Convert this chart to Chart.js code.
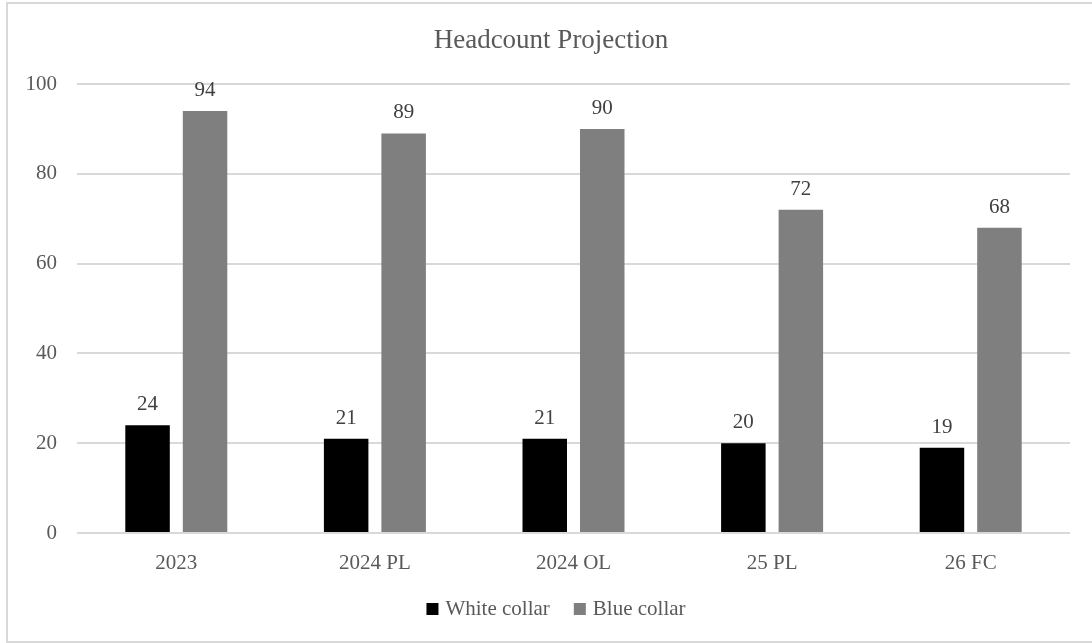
<!DOCTYPE html>
<html>
<head>
<meta charset="utf-8">
<title>Headcount Projection</title>
<script src="https://cdn.jsdelivr.net/npm/chart.js@4.4.1/dist/chart.umd.min.js"></script>
<style>
  html, body { margin: 0; padding: 0; background: #ffffff; }
  #wrap { position: relative; width: 1092px; height: 643px; }
</style>
</head>
<body>
<div id="wrap"><canvas id="c" width="1092" height="643"></canvas></div>
<script>
// Headcount by period
const categories = ['2023', '2024 PL', '2024 OL', '25 PL', '26 FC'];
const whiteCollar = [24, 21, 21, 20, 19];
const blueCollar = [94, 89, 90, 72, 68];
const yTicks = [0, 20, 40, 60, 80, 100];
const seriesNames = ['White collar', 'Blue collar'];
const seriesColors = ['#000000', '#7f7f7f'];
const chartTitle = 'Headcount Projection';

const FONT = '"Liberation Serif", "Times New Roman", serif';
const TEXT_GRAY = '#595959';

// Frame, title, value labels and legend
const decorations = {
  id: 'decorations',
  beforeDraw(chart) {
    const ctx = chart.ctx;
    ctx.save();
    ctx.fillStyle = '#ffffff';
    ctx.fillRect(0, 0, chart.width, chart.height);
    ctx.strokeStyle = '#d9d9d9';
    ctx.lineWidth = 2;
    ctx.strokeRect(7, 3, 1095, 639);
    ctx.restore();
  },
  afterDatasetsDraw(chart) {
    const ctx = chart.ctx;
    ctx.save();
    // value labels above each bar
    ctx.font = '21px ' + FONT;
    ctx.fillStyle = '#404040';
    ctx.textAlign = 'center';
    ctx.textBaseline = 'alphabetic';
    chart.data.datasets.forEach((ds, i) => {
      const meta = chart.getDatasetMeta(i);
      meta.data.forEach((bar, j) => {
        ctx.fillText(String(ds.data[j]), bar.x, bar.y - 15);
      });
    });
    // title
    ctx.font = '27px ' + FONT;
    ctx.fillStyle = TEXT_GRAY;
    ctx.fillText(chartTitle, 551, 48);
    // legend
    ctx.font = '21px ' + FONT;
    ctx.textAlign = 'left';
    const box = 12, gapText = 7, gapItem = 24, baseline = 615;
    const widths = seriesNames.map(n => ctx.measureText(n).width);
    const total = widths.reduce((a, w) => a + box + gapText + w, 0) + gapItem * (seriesNames.length - 1);
    let x = 556 - total / 2;
    seriesNames.forEach((name, i) => {
      ctx.fillStyle = seriesColors[i];
      ctx.fillRect(x, 603, box, box);
      x += box + gapText;
      ctx.fillStyle = TEXT_GRAY;
      ctx.fillText(name, x, baseline);
      x += widths[i] + gapItem;
    });
    ctx.restore();
  }
};

new Chart(document.getElementById('c'), {
  type: 'bar',
  data: {
    labels: categories,
    datasets: [
      { label: seriesNames[0], data: whiteCollar, backgroundColor: seriesColors[0] },
      { label: seriesNames[1], data: blueCollar, backgroundColor: seriesColors[1] }
    ]
  },
  options: {
    responsive: false,
    animation: false,
    devicePixelRatio: 1,
    layout: { padding: { left: 0, top: 84, right: 22, bottom: 0 } },
    datasets: { bar: { categoryPercentage: 0.579, barPercentage: 0.774 } },
    plugins: {
      legend: { display: false },
      title: { display: false },
      tooltip: { enabled: false }
    },
    scales: {
      x: {
        grid: { display: false, drawTicks: false },
        border: { display: false },
        ticks: { color: TEXT_GRAY, font: { family: FONT, size: 21 }, padding: 18 },
        afterFit(scale) { scale.height = 643 - 533; }
      },
      y: {
        min: 0,
        max: 100,
        afterBuildTicks(scale) { scale.ticks = yTicks.map(v => ({ value: v })); },
        grid: { color: '#d9d9d9', lineWidth: 2, drawTicks: false },
        border: { display: false },
        ticks: { color: TEXT_GRAY, font: { family: FONT, size: 21 }, padding: 20 },
        afterFit(scale) { scale.width = 77; }
      }
    }
  },
  plugins: [decorations]
});
</script>
</body>
</html>
